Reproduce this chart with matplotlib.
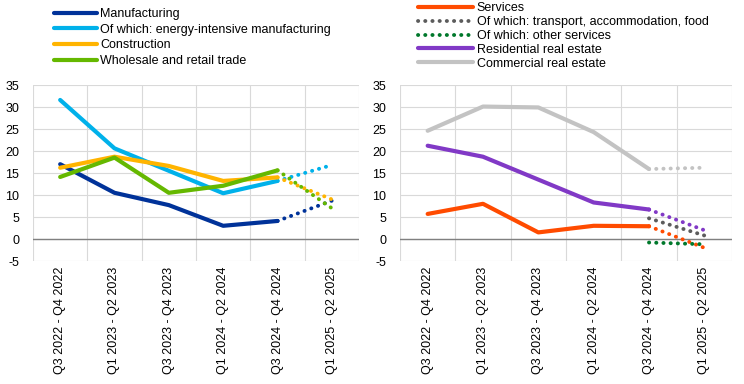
import matplotlib
matplotlib.use("Agg")
import matplotlib.pyplot as plt
from matplotlib.lines import Line2D

plt.rcParams['font.family'] = ['Liberation Sans', 'DejaVu Sans']
plt.rcParams['font.size'] = 9
plt.rcParams['axes.unicode_minus'] = False

categories = ["Q3 2022 - Q4 2022", "Q1 2023 - Q2 2023", "Q3 2023 - Q4 2023",
              "Q1 2024 - Q2 2024", "Q3 2024 - Q4 2024", "Q1 2025 - Q2 2025"]
yticks = [-5, 0, 5, 10, 15, 20, 25, 30, 35]

# left panel: realised (first five) + outlook (last)
manufacturing = [17.0, 10.5, 7.7, 3.0, 4.1, 8.7]
energy_intensive = [31.6, 20.6, 15.5, 10.4, 13.2, 16.8]
construction = [16.2, 18.7, 16.6, 13.2, 14.0, 9.0]
wholesale_retail = [14.1, 18.5, 10.5, 12.1, 15.6, 7.0]

# right panel
services = [5.7, 8.0, 1.5, 3.0, 2.9, -2.0]
transport_food = [None, None, None, None, 4.7, 0.8]
other_services = [None, None, None, None, -0.8, -1.2]
residential = [21.2, 18.7, 13.5, 8.3, 6.7, 2.0]
commercial = [24.6, 30.1, 29.9, 24.3, 15.9, 16.2]

left_series = [
    ("Manufacturing", manufacturing, "#003299"),
    ("Of which: energy-intensive manufacturing", energy_intensive, "#00b1ea"),
    ("Construction", construction, "#ffb400"),
    ("Wholesale and retail trade", wholesale_retail, "#65b800"),
]
right_series = [
    ("Services", services, "#ff4b00", "solid"),
    ("Of which: transport, accommodation, food", transport_food, "#5c5c5c", "dotted"),
    ("Of which: other services", other_services, "#00782b", "dotted"),
    ("Residential real estate", residential, "#8139c6", "solid"),
    ("Commercial real estate", commercial, "#c3c3c3", "solid"),
]

LW = 3.0
DOT = dict(linestyle=(0, (0.05, 1.8)), dash_capstyle='round', lw=2.8)

fig = plt.figure(figsize=(7.44, 3.84), dpi=100)
ax1 = fig.add_axes([33 / 744, 1 - 261 / 384, 326 / 744, 176 / 384])
ax2 = fig.add_axes([400 / 744, 1 - 261 / 384, 332 / 744, 176 / 384])

xs = list(range(len(categories)))


def setup(ax):
    ax.set_xlim(-0.5, len(categories) - 0.5)
    ax.set_ylim(-5, 35)
    ax.set_yticks(yticks)
    ax.set_xticks(xs)
    ax.set_xticklabels(categories, rotation=90, color="#000000")
    for b in range(len(categories) + 1):
        ax.axvline(b - 0.5, color="#d9d9d9", lw=0.8, zorder=0)
    for t in yticks:
        ax.axhline(t, color="#d9d9d9", lw=0.8, zorder=0)
    ax.axhline(0, color="#808080", lw=1.0, zorder=1)
    for s in ax.spines.values():
        s.set_visible(False)
    ax.tick_params(length=0, pad=4)
    ax.tick_params(axis='y', pad=10)


setup(ax1)
setup(ax2)

left_handles = []
for label, vals, col in left_series:
    ax1.plot(xs[:5], vals[:5], color=col, lw=LW, solid_capstyle='round', zorder=3)
    ax1.plot(xs[4:], vals[4:], color=col, zorder=3, **DOT)
    left_handles.append(Line2D([], [], color=col, lw=LW, solid_capstyle='round', label=label))

right_handles = []
for label, vals, col, style in right_series:
    if style == "solid":
        ax2.plot(xs[:5], vals[:5], color=col, lw=LW, solid_capstyle='round', zorder=3)
        right_handles.append(Line2D([], [], color=col, lw=LW, solid_capstyle='round', label=label))
    else:
        right_handles.append(Line2D([], [], color=col, label=label, **DOT))
    ax2.plot(xs[4:], vals[4:], color=col, zorder=4, **DOT)

fig.legend(handles=left_handles, loc='upper left', bbox_to_anchor=(54 / 744, 1 - 8 / 384),
           frameon=False, handlelength=3.4, handletextpad=0.3, labelspacing=0.30,
           borderaxespad=0, borderpad=0)
fig.legend(handles=right_handles, loc='upper left', bbox_to_anchor=(418 / 744, 1 - 2 / 384),
           frameon=False, handlelength=4.4, handletextpad=0.3, labelspacing=0.155,
           borderaxespad=0, borderpad=0)

fig.savefig("out.png", dpi=100)
